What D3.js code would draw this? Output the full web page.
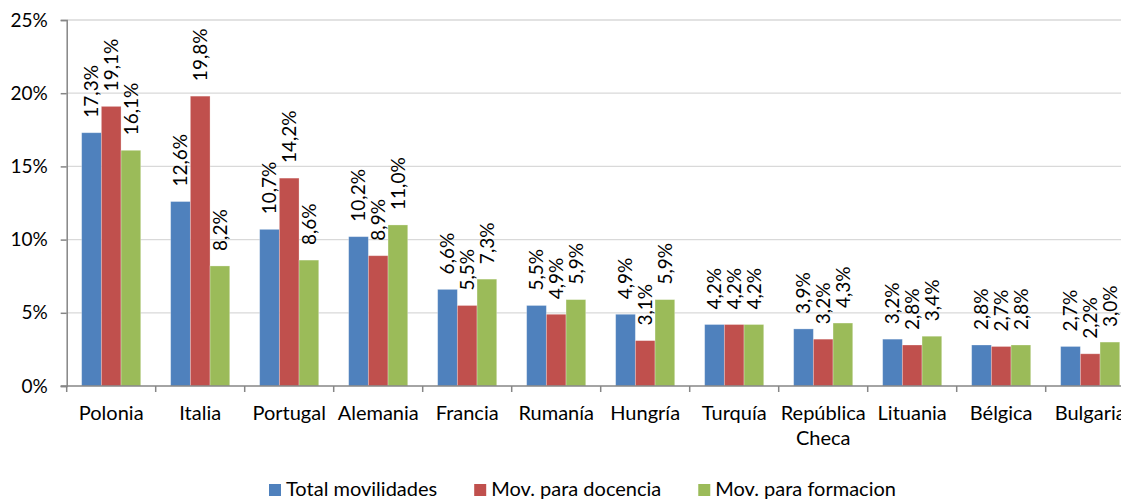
<!DOCTYPE html>
<html>
<head>
<meta charset="utf-8">
<script src="https://cdn.jsdelivr.net/npm/d3@7"></script>
<style>
  body { margin: 0; background: #fff; }
  svg { display: block; font-family: Lato, "Open Sans", sans-serif; }
</style>
</head>
<body>
<script>
// data (percent)
let countries = ["Polonia", "Italia", "Portugal", "Alemania", "Francia", "Rumanía",
                 "Hungría", "Turquía", "República Checa", "Lituania", "Bélgica", "Bulgaria"];
let totalMov = [17.3, 12.6, 10.7, 10.2, 6.6, 5.5, 4.9, 4.2, 3.9, 3.2, 2.8, 2.7];
let docenciaMov = [19.1, 19.8, 14.2, 8.9, 5.5, 4.9, 3.1, 4.2, 3.2, 2.8, 2.7, 2.2];
let formacionMov = [16.1, 8.2, 8.6, 11.0, 7.3, 5.9, 5.9, 4.2, 4.3, 3.4, 2.8, 3.0];
let seriesNames = ["Total movilidades", "Mov. para docencia", "Mov. para formacion"];
let yTicks = [0, 5, 10, 15, 20, 25];

let colors = ["#4f81bd", "#c0504d", "#9bbb59"];

let width = 1121, height = 499;
let plot = {left: 66.7, top: 20, bottom: 386, right: 66.7 + 89 * 12};

let svg = null;
let x0, x1, y = null;

appendSvg("body");
setupScales();
drawChart();

function appendSvg(domElement) {
  svg = d3.select(domElement).append("svg")
    .attr("width", width)
    .attr("height", height);
}

function setupScales() {
  x0 = d3.scaleBand()
    .domain(countries)
    .range([plot.left, plot.right])
    .padding(0);

  x1 = d3.scaleBand()
    .domain(seriesNames)
    .range([0, x0.bandwidth()])
    .paddingInner(0)
    .paddingOuter(0.76);

  y = d3.scaleLinear()
    .domain([0, 25])
    .range([plot.bottom, plot.top]);
}

function drawChart() {
  appendGrid();
  appendBars();
  appendAxes();
  appendLabels();
  appendLegend();
}

function appendGrid() {
  svg.append("g")
    .selectAll("line")
    .data(yTicks.filter(d => d > 0))
    .enter()
    .append("line")
    .attr("x1", plot.left)
    .attr("x2", plot.right)
    .attr("y1", d => y(d))
    .attr("y2", d => y(d))
    .attr("stroke", "#d9d9d9")
    .attr("stroke-width", 1.3);
}

function seriesRows() {
  let all = [totalMov, docenciaMov, formacionMov];
  return countries.map((c, i) => ({
    country: c,
    values: seriesNames.map((s, j) => ({country: c, series: s, idx: j, value: all[j][i]}))
  }));
}

function appendBars() {
  svg.append("g")
    .selectAll("g")
    .data(seriesRows())
    .enter()
    .append("g")
    .attr("transform", d => `translate(${x0(d.country)},0)`)
    .selectAll("rect")
    .data(d => d.values)
    .enter()
    .append("rect")
    .attr("x", d => x1(d.series))
    .attr("width", x1.bandwidth())
    .attr("y", d => y(d.value))
    .attr("height", d => y(0) - y(d.value))
    .attr("fill", d => colors[d.idx])
    .attr("stroke", "#ffffff")
    .attr("stroke-opacity", 0.35)
    .attr("stroke-width", 0.8);
}

function appendAxes() {
  let fmt = d => d + "%";

  // y axis
  let yAxis = svg.append("g")
    .attr("transform", `translate(${plot.left},0)`)
    .call(d3.axisLeft(y).tickValues(yTicks).tickFormat(fmt).tickSize(6).tickPadding(13));
  yAxis.select(".domain").attr("stroke", "#868686").attr("stroke-width", 1.5);
  yAxis.selectAll(".tick line").attr("stroke", "#868686").attr("stroke-width", 1.5);
  yAxis.selectAll("text")
    .attr("font-size", 19)
    .attr("font-family", "Lato, sans-serif")
    .attr("fill", "#000");

  // x axis: ticks on band edges
  let xg = svg.append("g");
  xg.append("line")
    .attr("x1", plot.left - 6).attr("x2", plot.right)
    .attr("y1", y(0)).attr("y2", y(0))
    .attr("stroke", "#868686").attr("stroke-width", 1.5);
  let edges = countries.map(c => x0(c)).concat([plot.right]);
  xg.selectAll("line.tk")
    .data(edges)
    .enter()
    .append("line")
    .attr("class", "tk")
    .attr("x1", d => d).attr("x2", d => d)
    .attr("y1", y(0)).attr("y2", y(0) + 6)
    .attr("stroke", "#868686").attr("stroke-width", 1.5);

  // category names, wrapped on two lines where needed
  xg.selectAll("text")
    .data(countries)
    .enter()
    .append("text")
    .attr("text-anchor", "middle")
    .attr("font-size", 20)
    .attr("fill", "#000")
    .each(function(d) {
      let words = d === "República Checa" ? ["República", "Checa"] : [d];
      let t = d3.select(this);
      words.forEach((w, i) => {
        t.append("tspan")
          .attr("x", x0(d) + x0.bandwidth() / 2)
          .attr("y", 420 + i * 25)
          .text(w);
      });
    });
}

function appendLabels() {
  let rows = seriesRows();
  let pts = [];
  rows.forEach(r => r.values.forEach(v => pts.push(v)));

  svg.append("g")
    .selectAll("text")
    .data(pts)
    .enter()
    .append("text")
    .attr("transform", d => {
      let cx = x0(d.country) + x1(d.series) + x1.bandwidth() / 2;
      return `translate(${cx},${y(d.value) - 15}) rotate(-90)`;
    })
    .attr("dy", "0.35em")
    .attr("text-anchor", "start")
    .attr("font-size", 19)
    .attr("fill", "#000")
    .text(d => d.value.toFixed(1).replace(".", ",") + "%");
}

function appendLegend() {
  let lg = svg.append("g");
  let xPos = 269;
  seriesNames.forEach((s, i) => {
    lg.append("rect")
      .attr("x", xPos).attr("y", 484)
      .attr("width", 12).attr("height", 12)
      .attr("fill", colors[i]);
    let t = lg.append("text")
      .attr("x", xPos + 17)
      .attr("y", 496)
      .attr("font-size", 20)
      .attr("fill", "#000")
      .text(s);
    xPos += 17 + t.node().getComputedTextLength() + 37;
  });
}
</script>
</body>
</html>
